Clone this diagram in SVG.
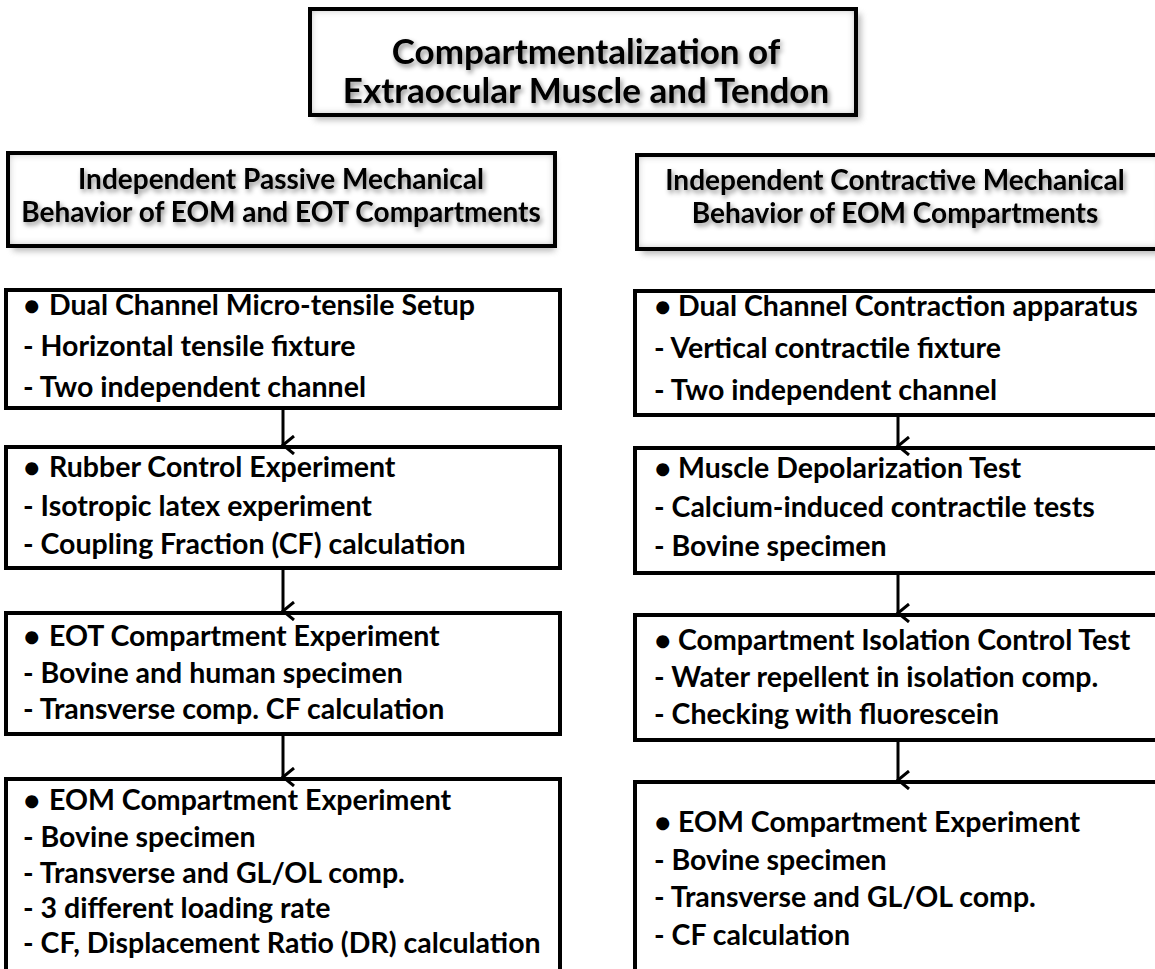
<svg xmlns="http://www.w3.org/2000/svg" width="1155" height="969" viewBox="0 0 1155 969">
<defs>
<style>
.bg{fill:#fff}
.box{fill:#fff;stroke:#000;stroke-width:4}
.frame{fill:none;stroke:#000;stroke-width:4}
.shadow{fill:#888;opacity:0.6;filter:url(#blur)}
.t{font-family:Lato,"Liberation Sans",sans-serif;font-weight:700;fill:#000}
.c{font-size:28.5px}
.h{font-size:28px;text-anchor:middle;filter:url(#tshadow)}
.ti{font-size:35px;text-anchor:middle;filter:url(#tshadow)}
.b{font-size:26px}
.conn{stroke:#000;stroke-width:3;fill:none}
</style>
<filter id="blur" x="-10%" y="-20%" width="120%" height="140%"><feGaussianBlur stdDeviation="3"/></filter>
<filter id="inner" x="-5%" y="-10%" width="110%" height="120%">
<feFlood flood-color="#9a9a9a"/>
<feComposite in2="SourceAlpha" operator="out"/>
<feGaussianBlur stdDeviation="4"/>
<feComposite in2="SourceAlpha" operator="in" result="glow"/>
<feMerge><feMergeNode in="SourceGraphic"/><feMergeNode in="glow"/></feMerge>
</filter>
<filter id="tshadow" x="-5%" y="-30%" width="110%" height="160%">
<feGaussianBlur in="SourceAlpha" stdDeviation="2.5"/>
<feOffset dx="2" dy="3" result="o"/>
<feFlood flood-color="#000" flood-opacity="0.45"/>
<feComposite in2="o" operator="in" result="s"/>
<feMerge><feMergeNode in="s"/><feMergeNode in="SourceGraphic"/></feMerge>
</filter>
<marker id="arr" viewBox="0 0 20 14" refX="10" refY="12" markerWidth="20" markerHeight="14" markerUnits="userSpaceOnUse" orient="auto-start-reverse">
<path d="M1 1 L10 12 L19 1" fill="none" stroke="#000" stroke-width="3"/>
</marker>
</defs>
<rect class="bg" x="0" y="0" width="1155" height="969"/>

<g id="title">
<rect class="shadow" x="315" y="14" width="546" height="106"/>
<rect fill="#fff" x="310" y="9" width="546" height="106" filter="url(#inner)"/>
<rect class="frame" x="310" y="9" width="546" height="106"/>
<text class="t ti" x="586" y="64">Compartmentalization of</text>
<text class="t ti" x="586" y="103">Extraocular Muscle and Tendon</text>
</g>

<g id="header-left">
<rect class="shadow" x="13" y="158" width="542" height="93"/>
<rect fill="#fff" x="8" y="153" width="547" height="93" filter="url(#inner)"/>
<rect class="frame" x="8" y="153" width="547" height="93"/>
<text class="t h" x="281" y="189">Independent Passive Mechanical</text>
<text class="t h" x="281" y="222">Behavior of EOM and EOT Compartments</text>
</g>

<g id="header-right">
<rect class="shadow" x="642" y="160" width="520" height="94"/>
<rect fill="#fff" x="637" y="155" width="525" height="94" filter="url(#inner)"/>
<rect class="frame" x="637" y="155" width="525" height="94"/>
<text class="t h" x="895" y="190">Independent Contractive Mechanical</text>
<text class="t h" x="895" y="223">Behavior of EOM Compartments</text>
</g>

<g id="left-1">
<rect class="box" x="6" y="290" width="554" height="118"/>
<text class="t c" x="24" y="315"><tspan class="b">●</tspan><tspan x="49">Dual Channel Micro-tensile Setup</tspan></text>
<text class="t c" x="23" y="356">- Horizontal  tensile fixture</text>
<text class="t c" x="23" y="397">- Two independent channel</text>
</g>
<g id="left-2">
<rect class="box" x="6" y="447" width="554" height="121"/>
<text class="t c" x="24" y="477"><tspan class="b">●</tspan><tspan x="49">Rubber Control Experiment</tspan></text>
<text class="t c" x="23" y="516">- Isotropic latex experiment</text>
<text class="t c" x="23" y="554">- Coupling Fraction (CF) calculation</text>
</g>
<g id="left-3">
<rect class="box" x="6" y="613" width="554" height="121"/>
<text class="t c" x="24" y="646"><tspan class="b">●</tspan><tspan x="49">EOT Compartment Experiment</tspan></text>
<text class="t c" x="23" y="683">- Bovine and human specimen</text>
<text class="t c" x="23" y="719">- Transverse comp. CF calculation</text>
</g>
<g id="left-4">
<rect class="box" x="6" y="779" width="554" height="220"/>
<text class="t c" x="24" y="810"><tspan class="b">●</tspan><tspan x="49">EOM Compartment Experiment</tspan></text>
<text class="t c" x="23" y="847">- Bovine specimen</text>
<text class="t c" x="23" y="883">- Transverse and GL/OL comp.</text>
<text class="t c" x="23" y="918">- 3 different loading rate</text>
<text class="t c" x="23" y="953">- CF, Displacement Ratio (DR) calculation</text>
</g>

<g id="right-1">
<rect class="box" x="635" y="291" width="527" height="124"/>
<text class="t c" x="655" y="316"><tspan class="b">●</tspan><tspan x="678">Dual Channel Contraction apparatus</tspan></text>
<text class="t c" x="654" y="358">- Vertical contractile fixture</text>
<text class="t c" x="654" y="400">- Two independent channel</text>
</g>
<g id="right-2">
<rect class="box" x="635" y="448" width="527" height="125"/>
<text class="t c" x="655" y="478"><tspan class="b">●</tspan><tspan x="678">Muscle Depolarization Test</tspan></text>
<text class="t c" x="654" y="517">- Calcium-induced contractile tests</text>
<text class="t c" x="654" y="556">- Bovine specimen</text>
</g>
<g id="right-3">
<rect class="box" x="635" y="615" width="527" height="125"/>
<text class="t c" x="655" y="650"><tspan class="b">●</tspan><tspan x="678">Compartment Isolation Control Test</tspan></text>
<text class="t c" x="654" y="687">- Water repellent in isolation comp.</text>
<text class="t c" x="654" y="724">- Checking with fluorescein</text>
</g>
<g id="right-4">
<rect class="box" x="635" y="782" width="527" height="220"/>
<text class="t c" x="655" y="832"><tspan class="b">●</tspan><tspan x="678">EOM Compartment Experiment</tspan></text>
<text class="t c" x="654" y="870">- Bovine specimen</text>
<text class="t c" x="654" y="907">- Transverse and GL/OL comp.</text>
<text class="t c" x="654" y="945">- CF calculation</text>
</g>

<g id="connectors">
<line class="conn" x1="283" y1="408" x2="283" y2="445" marker-end="url(#arr)"/>
<line class="conn" x1="283" y1="568" x2="283" y2="611" marker-end="url(#arr)"/>
<line class="conn" x1="283" y1="734" x2="283" y2="777" marker-end="url(#arr)"/>
<line class="conn" x1="898" y1="415" x2="898" y2="446" marker-end="url(#arr)"/>
<line class="conn" x1="898" y1="573" x2="898" y2="613" marker-end="url(#arr)"/>
<line class="conn" x1="898" y1="740" x2="898" y2="780" marker-end="url(#arr)"/>
</g>
</svg>
